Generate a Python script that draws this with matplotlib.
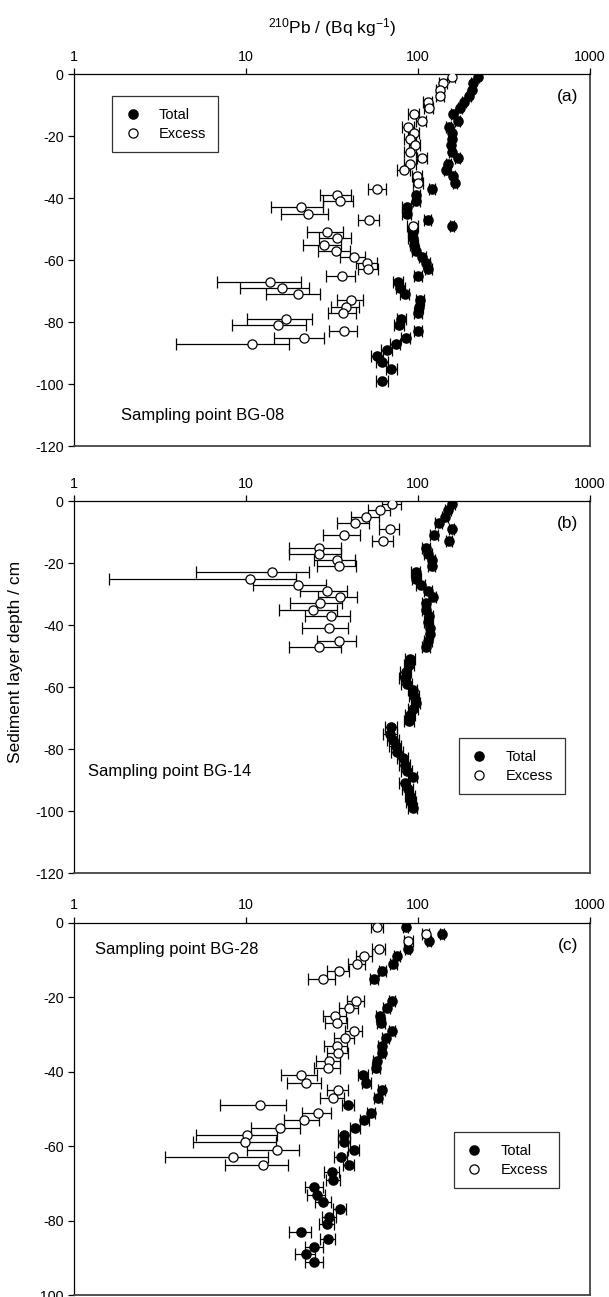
import matplotlib
matplotlib.use("Agg")
import matplotlib.pyplot as plt
from matplotlib.lines import Line2D
from matplotlib.ticker import NullLocator

plt.rcParams['font.family'] = ['Liberation Sans', 'DejaVu Sans']
plt.rcParams['axes.unicode_minus'] = False
plt.rcParams['mathtext.default'] = 'regular'

# ---- panel (a), BG-08 ----
a_total_depth = [-1, -3, -5, -7, -9, -11, -13, -15, -17, -19, -21, -23, -25, -27, -29, -31, -33, -35,
                 -37, -39, -41, -43, -45, -47, -49, -51, -53, -55, -57, -59, -61, -63, -65, -67, -69,
                 -71, -73, -75, -77, -79, -81, -83, -85, -87, -89, -91, -93, -95, -99]
a_total = [222, 208, 205, 198, 185, 175, 160, 170, 151, 157, 157, 156, 157, 170, 150, 146, 160, 164,
           121, 98, 98, 86, 86, 114, 158, 93, 93, 95, 97, 106, 112, 115, 100, 77, 79,
           84, 103, 102, 100, 80, 78, 100, 85, 74, 66, 58, 62, 70, 62]
a_total_err = 5
a_excess_depth = [-1, -3, -5, -7, -9, -11, -13, -15, -17, -19, -21, -23, -25, -27, -29, -31, -33, -35,
                  -37, -39, -41, -43, -45, -47, -49, -51, -53, -55, -57, -59, -61, -63, -65, -67, -69,
                  -71, -73, -75, -77, -79, -81, -83, -85, -87]
a_excess = [158, 140, 134, 134, 114, 116, 95, 105, 88, 95, 90, 96, 90, 106, 90, 83, 99, 100,
            58, 34, 35, 21, 23, 52, 93, 29.5, 33.6, 28.5, 33.3, 42.4, 50.6, 51.5, 36, 13.8, 16.2,
            20, 40.8, 38.1, 36.8, 17.1, 15.3, 37.2, 21.6, 10.9]
a_excess_err = 7

# ---- panel (b), BG-14 ----
b_total_depth = [-1, -3, -5, -7, -9, -11, -13, -15, -17, -19, -21, -23, -25, -27, -29, -31, -33, -35,
                 -37, -39, -41, -43, -45, -47, -51, -53, -55, -57, -59, -61, -63, -65, -67, -69,
                 -71, -73, -75, -77, -79, -81, -83, -85, -87, -89, -91, -93, -95, -97, -99]
b_total = [158, 150, 143, 132, 157, 124, 151, 112, 115, 120, 120, 97, 98, 104, 115, 122, 112, 112,
           116, 114, 117, 117, 115, 112, 90, 89, 85, 84, 86, 93, 95, 97, 94, 90,
           89, 70, 69, 72, 74, 76, 82, 84, 86, 93, 84, 87, 90, 91, 93]
b_total_err = 6
b_excess_depth = [-1, -3, -5, -7, -9, -11, -13, -15, -17, -19, -21, -23, -25, -27, -29, -31, -33, -35,
                  -37, -41, -45, -47]
b_excess = [71, 60, 50, 43, 68.5, 37, 63, 26.7, 26.7, 34, 34.8, 14.1, 10.6, 20, 29.5, 35.3, 27, 24.6,
            31, 30.3, 34.8, 26.7]
b_excess_err = 9

# ---- panel (c), BG-28 ----
c_total_depth = [-1, -3, -5, -7, -9, -11, -13, -15, -21, -23, -25, -27, -29, -31, -33, -35, -37, -39,
                 -41, -43, -45, -47, -49, -51, -53, -55, -57, -59, -61, -63, -65, -67, -69, -71,
                 -73, -75, -77, -79, -81, -83, -85, -87, -89, -91]
c_total = [85, 138, 116, 87, 75.5, 72, 62, 55.4, 70.5, 66, 60, 61, 70.5, 65, 61.5, 61.5, 57.5, 57,
           48, 50, 61.5, 58.6, 39.2, 53.2, 48.7, 43.3, 37.3, 37.1, 42.4, 35.6, 39.7, 31.5, 32, 24.9,
           25.7, 28.1, 35.2, 30.5, 29.4, 20.9, 29.8, 24.9, 22.3, 24.9]
c_total_err = 3
c_excess_depth = [-1, -3, -5, -7, -9, -11, -13, -15, -21, -23, -25, -27, -29, -31, -33, -35, -37, -39,
                  -41, -43, -45, -47, -49, -51, -53, -55, -57, -59, -61, -63, -65]
c_excess = [58, 110.6, 88, 59, 48.7, 44.4, 34.6, 27.9, 43.4, 39.7, 32.9, 33.9, 42.4, 37.5, 33.6, 34.4,
            30.4, 30, 21, 22.4, 34.4, 31.9, 12.1, 26.1, 21.6, 15.7, 10.1, 9.9, 15.2, 8.4, 12.6]
c_excess_err = 5

x_ticks = [1, 10, 100, 1000]
x_tick_labels = ['1', '10', '100', '1000']


def draw_panel(ax, td, tv, te, ed, ev, ee, ymin, tag, site, site_pos, leg_pos):
    ax.errorbar(tv, td, xerr=te, fmt='o', ms=6.6, mfc='black', mec='black', ecolor='black',
                elinewidth=0.9, capsize=4.5, capthick=0.9, zorder=3)
    ax.errorbar(ev, ed, xerr=ee, fmt='o', ms=6.6, mfc='white', mec='black', mew=0.9,
                ecolor='black', elinewidth=0.9, capsize=4.5, capthick=0.9, zorder=4)
    ax.set_xscale('log')
    ax.set_xlim(1, 1000)
    ax.set_ylim(ymin, 0)
    ax.set_xticks(x_ticks)
    ax.set_xticklabels(x_tick_labels)
    ax.xaxis.set_minor_locator(NullLocator())
    ax.set_yticks(list(range(ymin, 1, 20)))
    ax.xaxis.tick_top()
    ax.tick_params(direction='out', length=4, width=0.9, labelsize=10.3, colors='black')
    for s in ['top', 'left']:
        ax.spines[s].set_linewidth(0.9)
    for s in ['right', 'bottom']:
        ax.spines[s].set_linewidth(1.3)
        ax.spines[s].set_color('#444444')
    ax.text(0.977, 0.94, tag, transform=ax.transAxes, ha='right', va='center', fontsize=12.5)
    ax.text(site_pos[0], site_pos[1], site, transform=ax.transAxes, ha='left', va='center',
            fontsize=12)
    handles = [Line2D([], [], ls='none', marker='o', ms=6.6, mfc='black', mec='black'),
               Line2D([], [], ls='none', marker='o', ms=6.6, mfc='white', mec='black', mew=0.9)]
    leg = ax.legend(handles, ['Total', 'Excess'], loc='upper left', bbox_to_anchor=leg_pos,
                    frameon=True, fancybox=False, framealpha=1, edgecolor='#333333',
                    fontsize=10.5, handlelength=1.2, handletextpad=1.2, borderpad=0.8,
                    labelspacing=0.35, borderaxespad=0)
    leg.get_frame().set_linewidth(0.9)


fig = plt.figure(figsize=(6.09, 12.97), dpi=100)
ax_a = fig.add_axes([0.1215, 0.6561, 0.8473, 0.2868])
ax_b = fig.add_axes([0.1215, 0.3269, 0.8473, 0.2868])
ax_c = fig.add_axes([0.1215, 0.0015, 0.8473, 0.2870])

draw_panel(ax_a, a_total_depth, a_total, a_total_err, a_excess_depth, a_excess, a_excess_err,
           -120, '(a)', 'Sampling point BG-08', (0.092, 0.081), (0.074, 0.941))
draw_panel(ax_b, b_total_depth, b_total, b_total_err, b_excess_depth, b_excess, b_excess_err,
           -120, '(b)', 'Sampling point BG-14', (0.028, 0.274), (0.746, 0.363))
draw_panel(ax_c, c_total_depth, c_total, c_total_err, c_excess_depth, c_excess, c_excess_err,
           -100, '(c)', 'Sampling point BG-28', (0.04, 0.927), (0.736, 0.438))

fig.text(0.545, 0.979, r'$^{210}$Pb / (Bq kg$^{-1}$)', ha='center', va='center', fontsize=12.5)
fig.text(0.025, 0.49, 'Sediment layer depth / cm', rotation=90, ha='center', va='center',
         fontsize=12.5)

fig.savefig('out.png', dpi=100)
